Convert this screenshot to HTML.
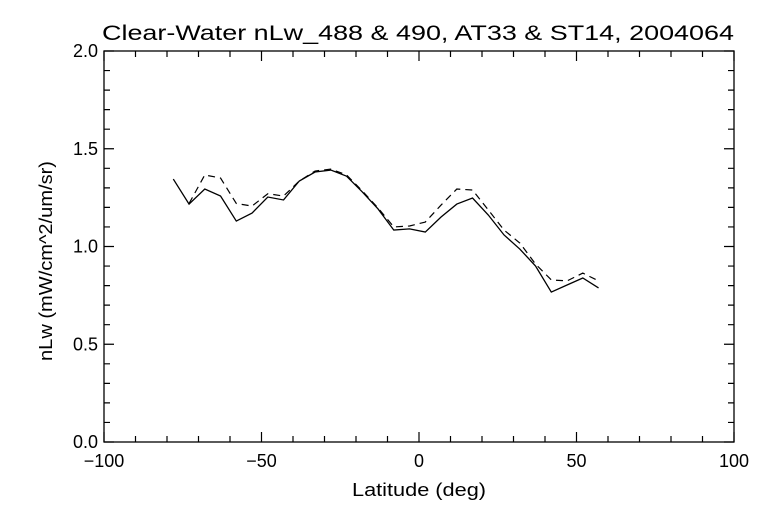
<!DOCTYPE html>
<html><head><meta charset="utf-8"><style>
body{margin:0;background:#fff;}
svg text{font-family:"Liberation Sans",sans-serif;fill:#000;}
</style></head><body>
<svg id="chart" width="768" height="512" xmlns="http://www.w3.org/2000/svg">
<rect width="768" height="512" fill="#fff"/>
<text x="418" y="40" font-size="21" text-anchor="middle" textLength="632" lengthAdjust="spacingAndGlyphs">Clear-Water nLw_488 &amp; 490, AT33 &amp; ST14, 2004064</text>
<text x="419" y="496" font-size="18" text-anchor="middle" textLength="134" lengthAdjust="spacingAndGlyphs">Latitude (deg)</text>
<text transform="translate(52,261) rotate(-90)" font-size="18" text-anchor="middle" textLength="200" lengthAdjust="spacingAndGlyphs">nLw (mW/cm^2/um/sr)</text>
<g id="axes"></g>
<g id="series"></g>
</svg>
<script>
const lats=[-78,-73,-68,-63,-58,-53,-48,-43,-38,-33,-28,-23,-18,-13,-8,-3,2,7,12,17,22,27,32,37,42,47,52,57];
const solidVals=[1.345,1.217,1.294,1.258,1.13,1.171,1.253,1.238,1.335,1.381,1.391,1.36,1.279,1.192,1.084,1.09,1.074,1.151,1.217,1.248,1.161,1.059,0.987,0.9,0.767,0.803,0.839,0.788];
const dashedLats=[-73,-68,-63,-58,-53,-48,-43,-38,-33,-28,-23,-18,-13,-8,-3,2,7,12,17,22,27,32,37,42,47,52,57];
const dashedVals=[1.22,1.366,1.35,1.22,1.207,1.27,1.258,1.335,1.386,1.396,1.366,1.284,1.197,1.10,1.105,1.125,1.212,1.294,1.289,1.187,1.084,1.018,0.91,0.829,0.824,0.864,0.824];
const xTicks=[-100,-50,0,50,100];
const yTicks=[0.0,0.5,1.0,1.5,2.0];
const L=104,R=734,T=51,B=442;
const xs=v=>L+(v+100)/200*(R-L);
const ys=v=>B-v/2*(B-T);
const NS="http://www.w3.org/2000/svg";
const ax=document.getElementById('axes'),se=document.getElementById('series');
function mk(t,a,p){const e=document.createElementNS(NS,t);for(const k in a)e.setAttribute(k,a[k]);p.appendChild(e);return e;}
const frame=mk('rect',{x:L,y:T,width:R-L,height:B-T,fill:'none',stroke:'#000','stroke-width':1.3},ax);


let d='';
for(let v=-100;v<=100;v+=10){const x=xs(v),len=(v%50===0)?10:6;d+=`M${x},${B}v${-len}M${x},${T}v${len}`;}
for(let k=0;k<=20;k++){const y=ys(k/10),len=(k%5===0)?10:6;d+=`M${L},${y}h${len}M${R},${y}h${-len}`;}
const tk=mk('path',{d:d,stroke:'#000','stroke-width':1.2,fill:'none'},ax);


xTicks.forEach(v=>{const t=mk('text',{x:xs(v),y:B+25,'font-size':18,'text-anchor':'middle'},ax);t.textContent=(v<0?'\u2212':'')+Math.abs(v);

});
yTicks.forEach(v=>{const t=mk('text',{x:L-6,y:ys(v)+6,'font-size':18,'text-anchor':'end'},ax);t.textContent=v.toFixed(1);

});
const p1=mk('polyline',{points:lats.map((v,i)=>xs(v)+','+ys(solidVals[i])).join(' '),fill:'none',stroke:'#000','stroke-width':1.3},se);


const p2=mk('polyline',{points:dashedLats.map((v,i)=>xs(v)+','+ys(dashedVals[i])).join(' '),fill:'none',stroke:'#000','stroke-width':1.2,'stroke-dasharray':'7,5'},se);


</script>
</body></html>
